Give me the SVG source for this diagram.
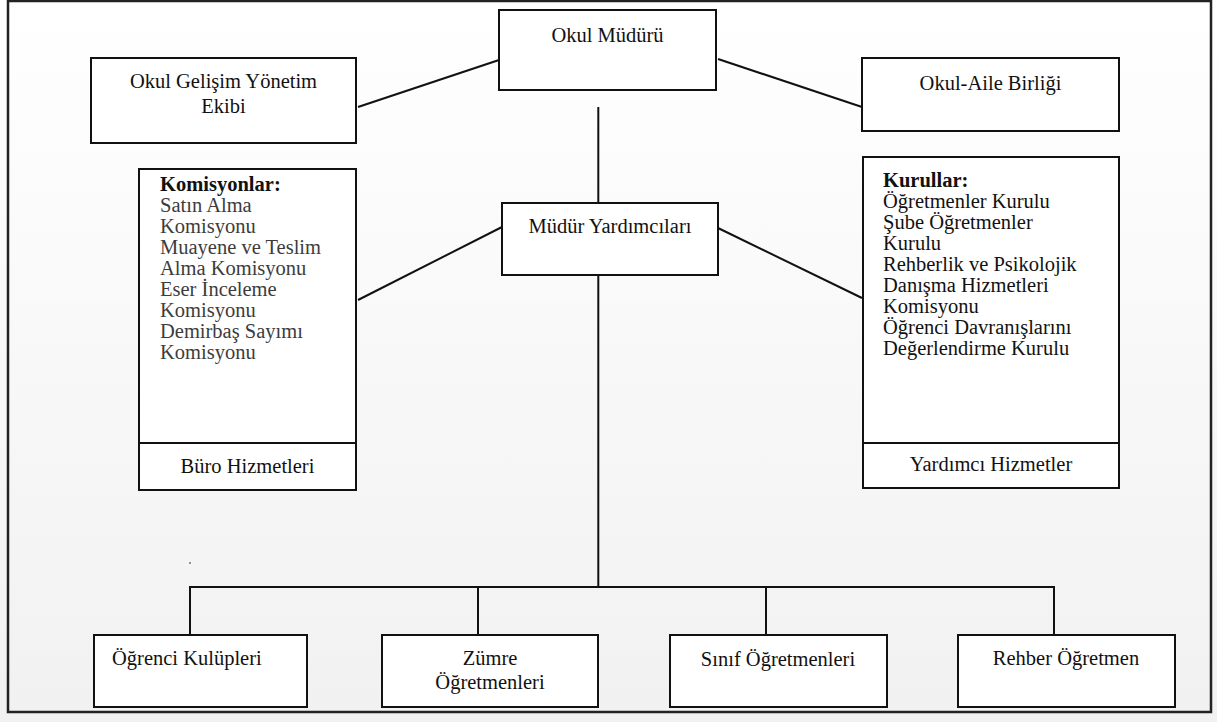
<svg xmlns="http://www.w3.org/2000/svg" width="1217" height="722" viewBox="0 0 1217 722">
  <defs>
    <linearGradient id="bg" x1="0" y1="0" x2="0" y2="1">
      <stop offset="0" stop-color="#ffffff"/>
      <stop offset="1" stop-color="#f1f1f1"/>
    </linearGradient>
    <style>
      .box { fill: #ffffff; stroke: #111111; stroke-width: 2; }
      .conn { stroke: #111111; stroke-width: 2; fill: none; }
      .t { font-family: "Liberation Serif", "Times New Roman", serif; font-size: 20.5px; fill: #111111; }
      .c { text-anchor: middle; }
      .b { font-weight: bold; }
      .g { fill: #3c3c3c; }
    </style>
  </defs>
  <rect x="0" y="0" width="1217" height="722" fill="url(#bg)"/>
  <rect x="8" y="1" width="1203" height="711" fill="none" stroke="#222222" stroke-width="2.5"/>
  <rect x="189.5" y="562" width="1" height="2" fill="#333333"/>

  <g id="connectors">
    <line class="conn" x1="358" y1="107" x2="502" y2="59"/>
    <line class="conn" x1="718" y1="59" x2="862" y2="107"/>
    <line class="conn" x1="598.3" y1="107" x2="598.3" y2="203"/>
    <line class="conn" x1="358" y1="300" x2="502" y2="227"/>
    <line class="conn" x1="718" y1="228" x2="862" y2="298"/>
    <line class="conn" x1="598.3" y1="275" x2="598.3" y2="587"/>
    <polyline class="conn" points="190,635 190,587 1054,587 1054,635"/>
    <line class="conn" x1="478" y1="587" x2="478" y2="635"/>
    <line class="conn" x1="766" y1="587" x2="766" y2="635"/>
  </g>

  <g id="okul-muduru">
    <rect class="box" x="499" y="10" width="217" height="80"/>
    <text class="t c" x="607.5" y="42">Okul Müdürü</text>
  </g>

  <g id="okul-gelisim">
    <rect class="box" x="91" y="58" width="265" height="85"/>
    <text class="t c" x="223.5" y="88">Okul Gelişim Yönetim</text>
    <text class="t c" x="223.5" y="113">Ekibi</text>
  </g>

  <g id="okul-aile">
    <rect class="box" x="862" y="58" width="257" height="73"/>
    <text class="t c" x="990.5" y="90">Okul-Aile Birliği</text>
  </g>

  <g id="mudur-yardimcilari">
    <rect class="box" x="502" y="203" width="216" height="72"/>
    <text class="t c" x="610" y="233">Müdür Yardımcıları</text>
  </g>

  <g id="komisyonlar">
    <rect class="box" x="139" y="169" width="217" height="321"/>
    <line class="conn" x1="139" y1="443" x2="356" y2="443"/>
    <text class="t b" x="160" y="191">Komisyonlar:</text>
    <text class="t g" x="160" y="212">Satın Alma</text>
    <text class="t g" x="160" y="233">Komisyonu</text>
    <text class="t g" x="160" y="254">Muayene ve Teslim</text>
    <text class="t g" x="160" y="275">Alma Komisyonu</text>
    <text class="t g" x="160" y="296">Eser İnceleme</text>
    <text class="t g" x="160" y="317">Komisyonu</text>
    <text class="t g" x="160" y="338">Demirbaş Sayımı</text>
    <text class="t g" x="160" y="359">Komisyonu</text>
    <text class="t c" x="247.5" y="473">Büro Hizmetleri</text>
  </g>

  <g id="kurullar">
    <rect class="box" x="863" y="157" width="256" height="331"/>
    <line class="conn" x1="863" y1="443" x2="1119" y2="443"/>
    <text class="t b" x="883" y="187">Kurullar:</text>
    <text class="t" x="883" y="208">Öğretmenler Kurulu</text>
    <text class="t" x="883" y="229">Şube Öğretmenler</text>
    <text class="t" x="883" y="250">Kurulu</text>
    <text class="t" x="883" y="271">Rehberlik ve Psikolojik</text>
    <text class="t" x="883" y="292">Danışma Hizmetleri</text>
    <text class="t" x="883" y="313">Komisyonu</text>
    <text class="t" x="883" y="334">Öğrenci Davranışlarını</text>
    <text class="t" x="883" y="355">Değerlendirme Kurulu</text>
    <text class="t c" x="991" y="471">Yardımcı Hizmetler</text>
  </g>

  <g id="ogrenci-kulupleri">
    <rect class="box" x="94" y="635" width="213" height="72"/>
    <text class="t" x="112" y="665">Öğrenci Kulüpleri</text>
  </g>

  <g id="zumre">
    <rect class="box" x="382" y="635" width="216" height="72"/>
    <text class="t c" x="490" y="665">Zümre</text>
    <text class="t c" x="490" y="689">Öğretmenleri</text>
  </g>

  <g id="sinif">
    <rect class="box" x="670" y="635" width="217" height="72"/>
    <text class="t c" x="778" y="666">Sınıf Öğretmenleri</text>
  </g>

  <g id="rehber">
    <rect class="box" x="958" y="635" width="217" height="72"/>
    <text class="t c" x="1066" y="665">Rehber Öğretmen</text>
  </g>
</svg>
